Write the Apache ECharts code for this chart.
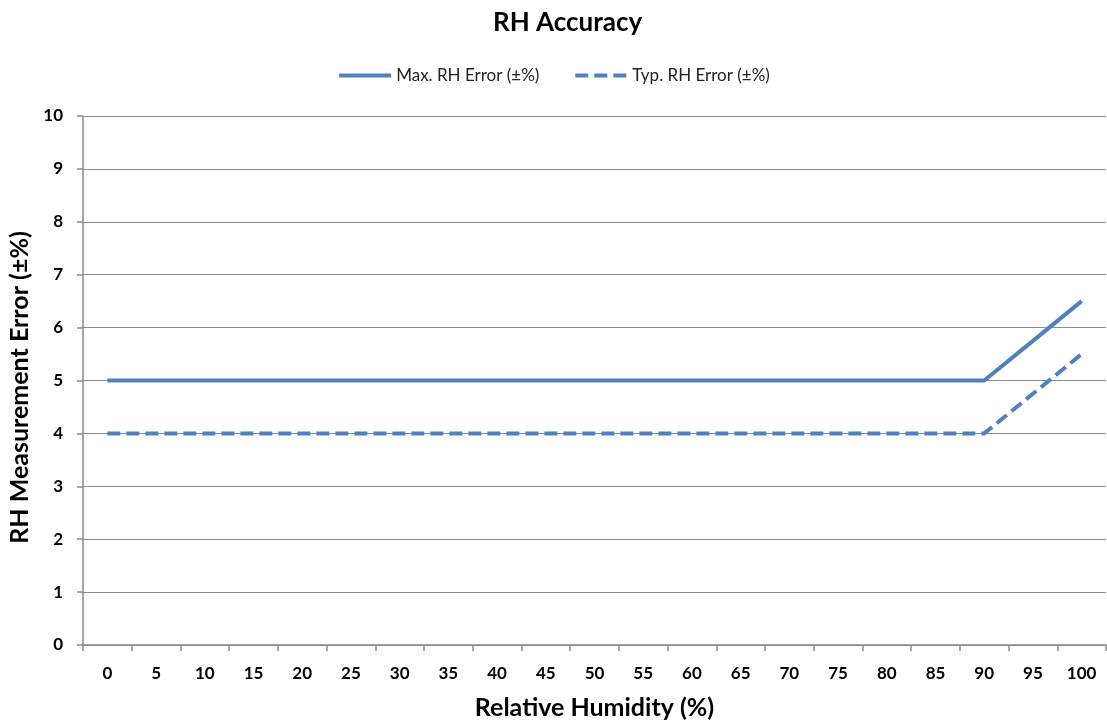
<!DOCTYPE html>
<html><head><meta charset="utf-8">
<script src="https://cdn.jsdelivr.net/npm/echarts@6/dist/echarts.min.js"></script>
<style>html,body{margin:0;padding:0;background:#fff}#c{width:1107px;height:721px}</style>
</head><body><div id="c"></div>
<script>
const categories = ['0','5','10','15','20','25','30','35','40','45','50','55','60','65','70','75','80','85','90','95','100'];
const maxError = [5,5,5,5,5,5,5,5,5,5,5,5,5,5,5,5,5,5,5,5.75,6.5];
const typError = [4,4,4,4,4,4,4,4,4,4,4,4,4,4,4,4,4,4,4,4.75,5.5];
const yTicks = {min:0, max:10, interval:1};
const FONT = 'Lato, "Open Sans", sans-serif';
const chart = echarts.init(document.getElementById('c'));
chart.setOption({
  animation:false,
  textStyle:{fontFamily:FONT},
  title:{text:'RH Accuracy', left:488, top:5, textStyle:{fontFamily:FONT, fontSize:26, fontWeight:'bold', color:'#000'}},
  legend:{top:62, left:'center', itemWidth:52, itemHeight:12, itemGap:34,
    itemStyle:{opacity:0}, lineStyle:{width:4},
    textStyle:{fontFamily:FONT, fontSize:17, color:'#222'},
    data:['Max. RH Error (±%)','Typ. RH Error (±%)']},
  grid:{left:83, right:1, top:116, bottom:76, containLabel:false, outerBoundsMode:'none'},
  xAxis:{type:'category', data:categories, boundaryGap:true,
    name:'Relative Humidity (%)', nameLocation:'middle', nameGap:50,
    nameTextStyle:{fontFamily:FONT, fontSize:25, fontWeight:'bold', color:'#000'},
    axisLine:{lineStyle:{color:'#8a8a8a', width:1.5}},
    axisTick:{show:true, alignWithLabel:false, length:6, lineStyle:{color:'#8a8a8a', width:1.5}},
    axisLabel:{fontFamily:FONT, fontSize:17, fontWeight:'bold', color:'#000', margin:20, interval:0},
    splitLine:{show:false}},
  yAxis:{type:'value', min:yTicks.min, max:yTicks.max, interval:yTicks.interval,
    name:'RH Measurement Error (±%)', nameLocation:'middle', nameGap:49,
    nameTextStyle:{fontFamily:FONT, fontSize:25, fontWeight:'bold', color:'#000', padding:[0,14,0,0]},
    axisLine:{show:true, lineStyle:{color:'#8a8a8a', width:1.5}},
    axisTick:{show:true, length:6, lineStyle:{color:'#8a8a8a', width:1.5}},
    axisLabel:{fontFamily:FONT, fontSize:17, fontWeight:'bold', color:'#000', margin:20},
    splitLine:{show:true, lineStyle:{color:'#8a8a8a', width:1.2}}},
  series:[
    {name:'Max. RH Error (±%)', type:'line', data:maxError, showSymbol:false, symbol:'none',
      lineStyle:{color:'#4f81bd', width:4}, itemStyle:{color:'#4f81bd'}},
    {name:'Typ. RH Error (±%)', type:'line', data:typError, showSymbol:false, symbol:'none',
      lineStyle:{color:'#4f81bd', width:4, type:[13,6]}, itemStyle:{color:'#4f81bd'}}
  ]
});
</script></body></html>
